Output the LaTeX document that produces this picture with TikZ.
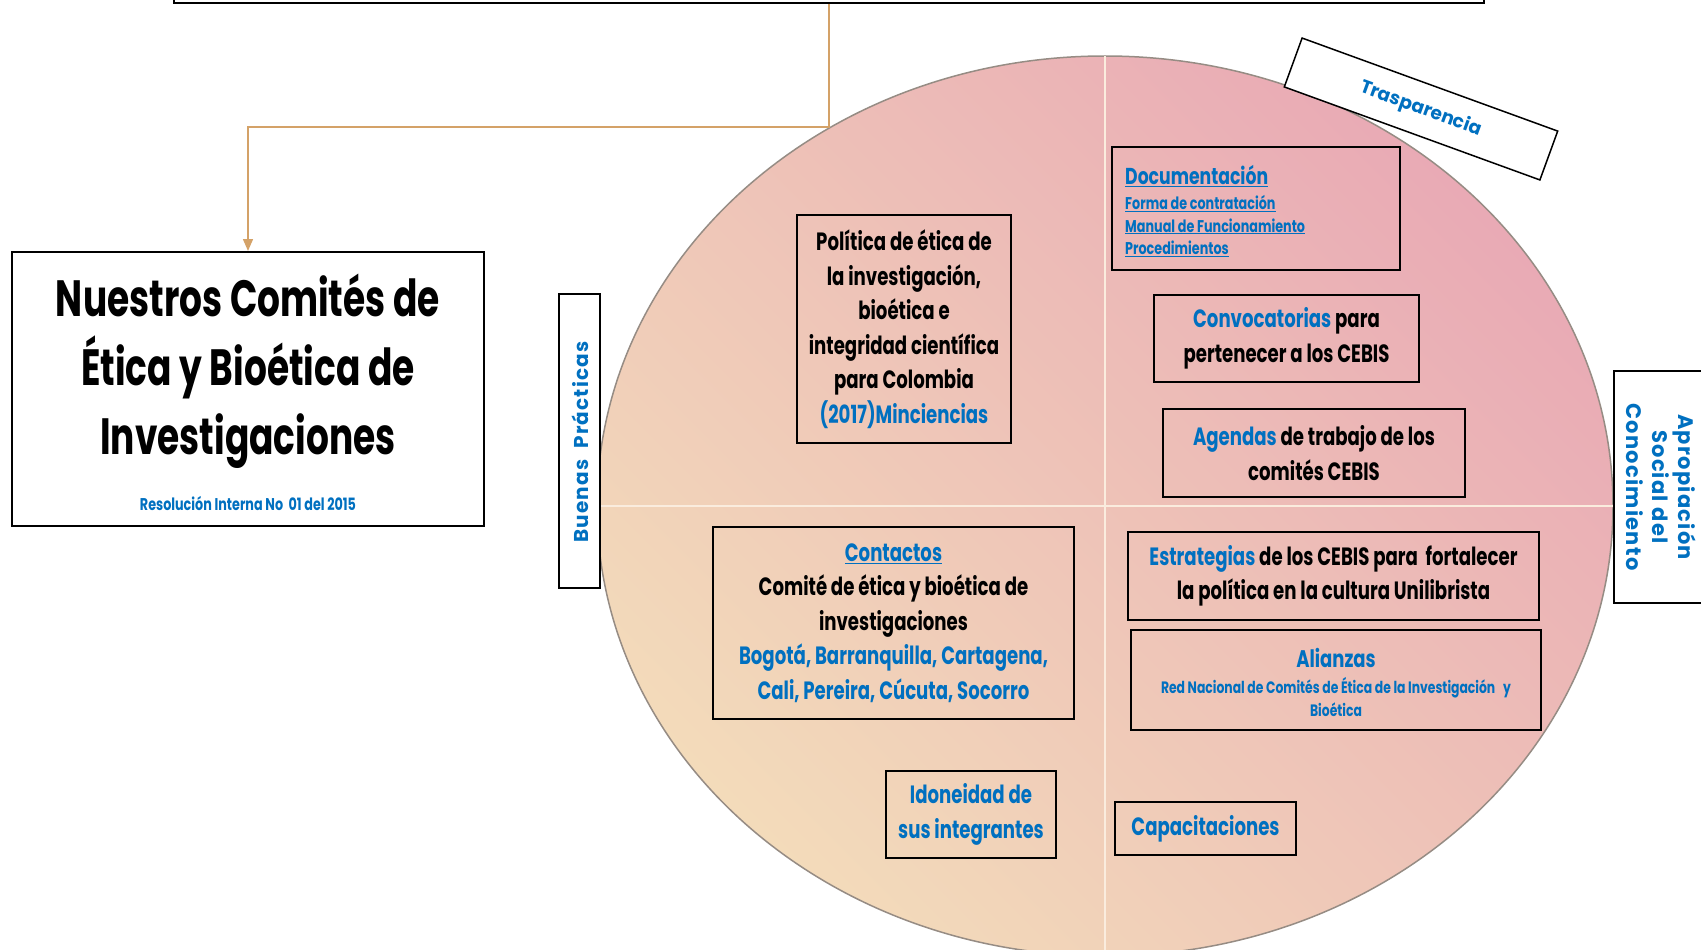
\documentclass[tikz,border=0pt]{standalone}
\usepackage{fontspec}
\usetikzlibrary{arrows.meta}
\newfontfamily\fcond[FakeStretch=0.75]{Poppins}
\newfontfamily\fbody[FakeStretch=0.725]{Poppins}
\newfontfamily\ftitle[FakeStretch=0.705]{Poppins}
\newfontfamily\fwide[LetterSpace=6]{Poppins}
\newfontfamily\fplain{Poppins}
\definecolor{tblue}{RGB}{0,112,192}
\definecolor{conncol}{RGB}{212,162,104}
\definecolor{peach}{RGB}{243,219,186}
\definecolor{rosy}{RGB}{233,170,181}
\definecolor{divcol}{RGB}{250,236,222}
\definecolor{rimcol}{RGB}{150,140,132}
\tikzset{
  box/.style={draw=black, line width=2pt, inner sep=0pt},
  wbox/.style={box, fill=white},
  body/.style={font=\fbody\bfseries\fontsize{25}{34.5}\selectfont, align=center},
  conn/.style={draw=conncol, line width=1.5pt},
  divider/.style={draw=divcol, line width=2pt},
  rotlabel/.style={font=\fwide\bfseries\fontsize{20}{26}\selectfont, text=tblue, align=center},
}
\begin{document}
\begin{tikzpicture}[x=1pt,y=-1pt]
\useasboundingbox (0,0) rectangle (1701,950);
% big ellipse
\shade[top color=rosy, bottom color=peach, shading angle=-45] (1105,506) ellipse [x radius=508, y radius=450];
\draw[draw=rimcol, line width=1.5pt] (1105,506) ellipse [x radius=508, y radius=450];
\draw[divider] (597,506) -- (1613,506);
\draw[divider] (1105,56) -- (1105,956);

% top box and main box
\node[box, minimum width=1310, minimum height=60] (topbox) at (829,-27) {};
\node[wbox, minimum width=472, minimum height=274] (mainbox) at (248,389) {};
\node[font=\ftitle\bfseries\fontsize{51}{69}\selectfont, align=center] (title) at (248,371) {Nuestros Comités de\\Ética y Bioética de\\Investigaciones};
\node[font=\fcond\bfseries\fontsize{17}{20}\selectfont, text=tblue] (resol) at (248,503) {Resolución Interna No\ \ 01 del 2015};

\coordinate (elbow) at (829,127);
\draw[conn, -{Triangle[width=10pt,length=12pt]}] (topbox.south) -- (elbow) -| (mainbox.north);

% side labels
\node[wbox, minimum width=41, minimum height=294] (buenasbox) at (579.5,441) {};
\node[rotlabel, rotate=90] (buenas) at (580,442) {Buenas\ \ Prácticas};
\node[wbox, minimum width=126, minimum height=232] (aprobox) at (1677,487) {};
\node[rotlabel, rotate=-90, font=\fwide\bfseries\fontsize{21}{26}\selectfont] (apro) at (1661,487) {Apropiación\\Social del\\Conocimiento};
\node[wbox, line width=1.5pt, rotate=-20, minimum width=272, minimum height=52, rotlabel, font=\fplain\bfseries\fontsize{18.5}{24}\selectfont] (traspa) at (1421,109) {Trasparencia};

% inner boxes
\node[box, minimum width=214, minimum height=228, body] (politica) at (904,329) {Política de ética de\\la investigación,\\bioética e\\integridad científica\\para Colombia\\\textcolor{tblue}{(2017)Minciencias}};

\node[box, minimum width=288, minimum height=123] (docbox) at (1256,208.5) {};
\node[anchor=west, inner sep=0pt, font=\fcond\bfseries\fontsize{23}{26}\selectfont, text=tblue] (doctitle) at (1125,176) {\underline{Documentación}};
\node[anchor=west, inner sep=0pt, align=left, font=\fcond\bfseries\fontsize{17}{22.5}\selectfont, text=tblue] (doclist) at (1125,226) {\underline{Forma de contratación}\\\underline{Manual de Funcionamiento}\\\underline{Procedimientos}};

\node[box, minimum width=265, minimum height=87, body] (convoca) at (1286.5,338.5) {\textcolor{tblue}{Convocatorias} para\\pertenecer a los CEBIS};
\node[box, minimum width=302, minimum height=88, body] (agendas) at (1314,453) {\textcolor{tblue}{Agendas} de trabajo de los\\comités CEBIS};

\node[box, minimum width=361, minimum height=192, body] (contactos) at (893.5,623) {\textcolor{tblue}{\underline{Contactos}}\\Comité de ética y bioética de\\investigaciones\\\textcolor{tblue}{Bogotá, Barranquilla, Cartagena,}\\\textcolor{tblue}{Cali, Pereira, Cúcuta, Socorro}};

\node[box, minimum width=411, minimum height=88, body] (estrategias) at (1333.5,576) {\textcolor{tblue}{Estrategias} de los CEBIS para\ \ fortalecer\\la política en la cultura Unilibrista};

\node[box, minimum width=410, minimum height=100] (alianzas) at (1336,680) {};
\node[font=\fcond\bfseries\fontsize{24}{28}\selectfont, text=tblue] (alitit) at (1336,658) {Alianzas};
\node[align=center, font=\fcond\bfseries\fontsize{16.5}{23}\selectfont, text=tblue] (alitxt) at (1336,697.5) {Red Nacional de Comités de Ética de la Investigación\ \ \ y\\Bioética};

\node[box, minimum width=170, minimum height=87, body, text=tblue] (idoneidad) at (971,814.5) {Idoneidad de\\sus integrantes};
\node[box, minimum width=181, minimum height=53, body, text=tblue] (capacita) at (1205.5,828.5) {Capacitaciones};
\end{tikzpicture}
\end{document}
